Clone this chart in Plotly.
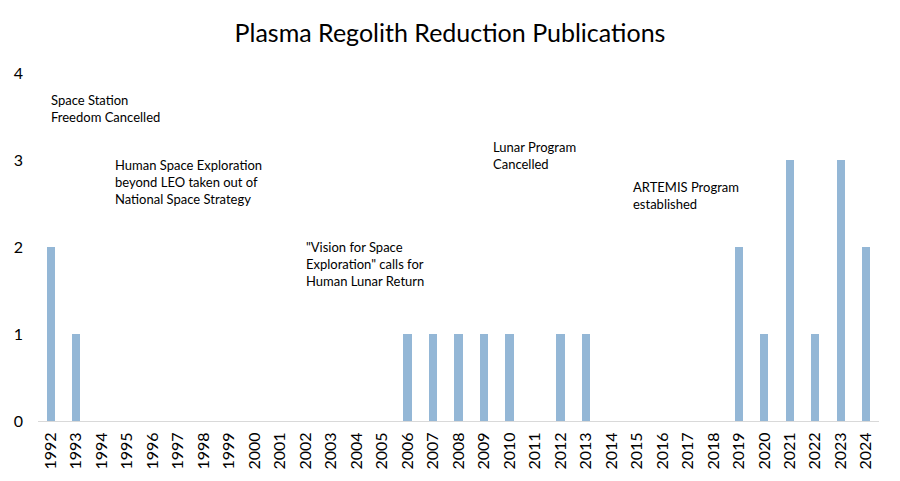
import plotly.graph_objects as go

years = [str(y) for y in range(1992, 2025)]
counts = [2, 1, 0, 0, 0, 0, 0, 0, 0, 0, 0, 0, 0, 0, 1, 1, 1, 1, 1, 0, 1, 1,
          0, 0, 0, 0, 0, 2, 1, 3, 1, 3, 2]
y_ticks = [0, 1, 2, 3, 4]

notes = [
    ("Space Station<br>Freedom Cancelled", -0.08, 3.81),
    ("Human Space Exploration<br>beyond LEO taken out of<br>National Space Strategy", 2.43, 3.06),
    ("\"Vision for Space<br>Exploration\" calls for<br>Human Lunar Return", 9.92, 2.11),
    ("Lunar Program<br>Cancelled", 17.29, 3.26),
    ("ARTEMIS Program<br>established", 22.78, 2.8),
]

FONT = "Lato, Open Sans, sans-serif"

fig = go.Figure(go.Bar(x=list(range(len(years))), y=counts, width=0.32,
                       marker=dict(color="#94B7D6", line=dict(width=0))))

for text, x, y in notes:
    fig.add_annotation(text=text, x=x, y=y, xref="x", yref="y", xanchor="left",
                       yanchor="top", showarrow=False, align="left",
                       font=dict(family=FONT, size=13, color="#000"))

fig.update_layout(
    width=900, height=481,
    margin=dict(l=38, r=21, t=73, b=60),
    paper_bgcolor="white", plot_bgcolor="white",
    title=dict(text="Plasma Regolith Reduction Publications", x=0.5, xanchor="center",
               y=0.93, yanchor="middle",
               font=dict(family=FONT, size=25, color="#000")),
    font=dict(family=FONT, color="#000"),
    showlegend=False,
    bargap=0,
)
fig.update_xaxes(range=[-0.5, len(years) - 0.5], tickmode="array",
                 tickvals=list(range(len(years))), ticktext=years, tickangle=-90,
                 tickfont=dict(size=16), showgrid=False, showline=True,
                 linecolor="#D9D9D9", linewidth=1, ticks="", zeroline=False,
                 ticklabelstandoff=4)
fig.update_yaxes(range=[0, 4], tickvals=y_ticks, tickfont=dict(size=16),
                 showgrid=False, zeroline=False, showline=False, ticks="",
                 ticklabelstandoff=14)

fig.write_html("out.html")
